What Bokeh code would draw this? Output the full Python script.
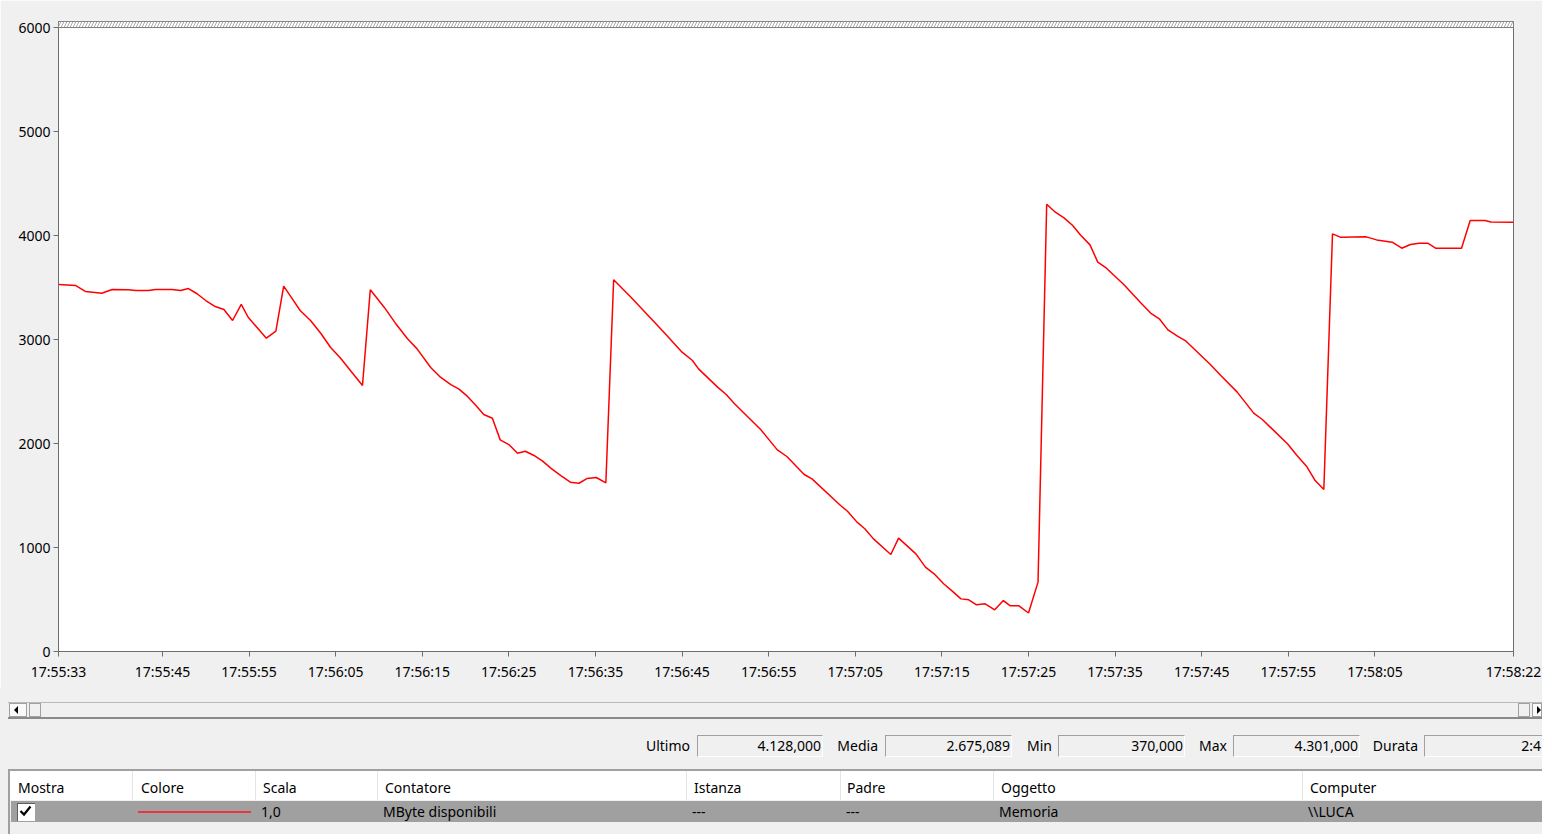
from bokeh.plotting import figure
from bokeh.models import Range1d, FixedTicker, BoxAnnotation, Div
from bokeh.layouts import column
from bokeh.embed import file_html
from bokeh.resources import INLINE

FONT = "Noto Sans"

# ---- data (seconds after 17:55:33, MByte disponibili) ----
seconds = [0, 2.0, 3.1, 5.0, 6.2, 8.1, 8.9, 10.4, 11.2, 13.1,
           14.1, 15.0, 16.0, 17.0, 18.1, 19.1, 20.1, 21.1, 21.9, 22.9,
           24.0, 25.1, 26.0, 27.0, 27.9, 29.1, 30.3, 31.4, 32.6, 33.7,
           35.1, 36.0, 37.6, 38.9, 40.3, 41.4, 43.0, 44.1, 45.3, 46.2,
           47.2, 48.2, 49.1, 50.1, 51.0, 52.0, 53.0, 53.9, 54.9, 55.9,
           56.8, 58.0, 59.1, 60.1, 61.0, 62.1, 63.2, 64.1, 66.1, 69.9,
           72.0, 73.2, 73.9, 76.1, 77.1, 78.0, 81.1, 83.0, 84.1, 86.1,
           87.0, 90.3, 91.1, 92.2, 93.1, 94.1, 96.1, 97.0, 99.0, 100.1,
           101.1, 102.2, 103.2, 104.2, 105.1, 106.0, 107.0, 108.1, 109.1, 109.9,
           110.9, 112.0, 113.1, 114.1, 115.1, 116.1, 117.1, 118.0, 119.1, 120.0,
           121.0, 123.0, 124.9, 126.1, 127.1, 128.1, 129.2, 130.1, 133.0, 134.2,
           136.1, 138.0, 139.0, 141.9, 143.0, 144.1, 145.1, 146.1, 147.1, 148.0,
           151.0, 152.2, 154.0, 155.1, 156.1, 157.1, 158.1, 159.0, 162.0, 163.0,
           164.7, 165.4, 168.0]
mbytes = [3529, 3519, 3462, 3445, 3481, 3478, 3471, 3471, 3481, 3481,
          3471, 3490, 3440, 3375, 3317, 3288, 3183, 3337, 3214, 3118,
          3013, 3080, 3513, 3391, 3279, 3183, 3058, 2926, 2817, 2702,
          2558, 3478, 3311, 3157, 3007, 2910, 2728, 2638, 2567, 2526,
          2455, 2365, 2279, 2243, 2035, 1990, 1907, 1926, 1885, 1830,
          1766, 1692, 1628, 1618, 1663, 1673, 1622, 3574, 3407, 3070,
          2878, 2798, 2718, 2542, 2471, 2388, 2132, 1939, 1875, 1702,
          1660, 1404, 1349, 1244, 1180, 1083, 933, 1090, 939, 811,
          747, 651, 580, 506, 497, 449, 458, 401, 490, 439,
          439, 370, 667, 4301, 4224, 4170, 4096, 4006, 3910, 3744,
          3686, 3529, 3359, 3254, 3199, 3093, 3032, 2990, 2760, 2654,
          2494, 2292, 2231, 1997, 1885, 1782, 1644, 1558, 4016, 3984,
          3987, 3958, 3936, 3878, 3914, 3926, 3926, 3878, 3878, 4144,
          4144, 4131, 4128]

tick_secs = [0, 12, 22, 32, 42, 52, 62, 72, 82, 92, 102, 112, 122, 132, 142, 152, 168]
tick_labels = ["17:55:33", "17:55:45", "17:55:55", "17:56:05", "17:56:15", "17:56:25",
               "17:56:35", "17:56:45", "17:56:55", "17:57:05", "17:57:15", "17:57:25",
               "17:57:35", "17:57:45", "17:57:55", "17:58:05", "17:58:22"]
y_ticks = [0, 1000, 2000, 3000, 4000, 5000, 6000]

stat_names = ["Ultimo", "Media", "Min", "Max", "Durata"]
stat_values = ["4.128,000", "2.675,089", "370,000", "4.301,000", "2:4"]
col_headers = ["Mostra", "Colore", "Scala", "Contatore", "Istanza", "Padre", "Oggetto", "Computer"]
row_values = ["1,0", "MByte disponibili", "---", "---", "Memoria", "\\\\LUCA"]

BG = "#f0f0f0"
FRAME = "#6d6d6d"

# ---- main chart ----
p = figure(width=1542, height=688, x_range=Range1d(0, 168), y_range=Range1d(0, 6058),
           output_backend="svg", toolbar_location=None,
           min_border_left=58, min_border_right=29, min_border_top=21, min_border_bottom=37)
p.background_fill_color = "white"
p.border_fill_color = BG
p.outline_line_color = FRAME
p.grid.visible = False

p.add_layout(BoxAnnotation(bottom=6000, fill_color="white", fill_alpha=1.0,
                           hatch_pattern="/", hatch_color="#a8a8a8", hatch_scale=6,
                           hatch_weight=1, line_color="#7a7a7a", line_alpha=1.0, line_width=1))

p.line(seconds, mbytes, line_color="#ff0000", line_width=1.5)

for ax in (p.xaxis[0], p.yaxis[0]):
    ax.axis_line_color = FRAME
    ax.major_tick_line_color = FRAME
    ax.major_tick_out = 5
    ax.major_tick_in = 0
    ax.minor_tick_line_color = None
    ax.major_label_text_font = FONT
    ax.major_label_text_font_size = "14px"
    ax.major_label_text_color = "#000000"

p.yaxis.ticker = FixedTicker(ticks=y_ticks)
p.yaxis.major_label_standoff = 3
p.xaxis.ticker = FixedTicker(ticks=tick_secs)
p.xaxis.major_label_overrides = {t: lab for t, lab in zip(tick_secs, tick_labels)}
p.xaxis.major_label_standoff = 5

# ---- window chrome below the chart (scrollbar, statistics, counter list) ----
TOP = 688  # page y where the panel starts


def box(l, t, w, h, css=""):
    return (f'<div style="position:absolute;left:{l}px;top:{t - TOP}px;width:{w}px;'
            f'height:{h}px;box-sizing:border-box;{css}"></div>')


def txt(x, yc, s, align="left"):
    if align == "right":
        pos = f"left:{x - 200}px;width:200px;text-align:right;"
    else:
        pos = f"left:{x}px;"
    return (f'<div style="position:absolute;{pos}top:{yc - TOP - 10}px;height:20px;'
            f'line-height:20px;white-space:nowrap;">{s}</div>')


parts = []
# scrollbar
parts.append(box(8, 702, 1534, 17, "border-top:1px solid #b9b9b9;border-bottom:2px solid #8a8a8a;"))
parts.append(box(9, 703, 18, 14, "background:#f9f9f9;border:1px solid #a0a0a0;"))
parts.append(box(29, 703, 12, 14, f"background:{BG};border:1px solid #a0a0a0;"))
parts.append(box(1518, 703, 12, 14, f"background:{BG};border:1px solid #a0a0a0;"))
parts.append(box(1532, 703, 10, 14, "background:#f9f9f9;border:1px solid #a0a0a0;"))
parts.append(box(14, 706, 0, 0, "border-top:4px solid transparent;border-bottom:4px solid transparent;"
                                 "border-right:4px solid #000;"))
parts.append(box(1537, 706, 0, 0, "border-top:4px solid transparent;border-bottom:4px solid transparent;"
                                   "border-left:4px solid #000;"))

# statistics fields
lab_right = [690, 878, 1052, 1227, 1418]
box_left = [697, 885, 1058, 1233, 1424]
box_right = [823, 1012, 1185, 1360, 1560]
val_right = [821, 1010, 1183, 1358, 1541]
for name, val, lr, bl, br, vr in zip(stat_names, stat_values, lab_right, box_left, box_right, val_right):
    parts.append(box(bl, 735, br - bl, 22, f"background:{BG};border-top:1px solid #a0a0a0;"
                                           "border-left:1px solid #a0a0a0;border-bottom:1px solid #fff;"
                                           "border-right:1px solid #fff;"))
    parts.append(txt(lr, 746, name, "right"))
    parts.append(txt(vr, 746, val, "right"))

# counter list
parts.append(box(8, 769, 1534, 2, "background:#a0a0a0;"))
parts.append(box(8, 769, 2, 65, "background:#a0a0a0;"))
parts.append(box(10, 771, 1532, 29, "background:#ffffff;"))
for sx in [132, 255, 377, 686, 840, 993, 1302]:
    parts.append(box(sx, 771, 1, 29, "background:#e5e5e5;"))
for hx, h in zip([18, 141, 263, 385, 694, 847, 1001, 1310], col_headers):
    parts.append(txt(hx, 788, h))
parts.append(box(11, 801, 1531, 21, "background:#a0a0a0;"))
parts.append(box(17, 803, 18, 18, "background:#ffffff;border-left:1px solid #606060;"
                                  "border-top:1px solid #606060;"))
parts.append(f'<svg style="position:absolute;left:17px;top:{803 - TOP}px" width="18" height="18">'
             '<polyline points="3.5,8 7,11.5 13.5,3.5" fill="none" stroke="#000" stroke-width="2.2"/>'
             '</svg>')
parts.append(box(138, 811, 113, 2, "background:#e8383d;"))
for rx, rv in zip([261, 383, 692, 846, 999, 1308], row_values):
    parts.append(txt(rx, 812, rv))

html = (f'<div style="position:relative;width:1542px;height:146px;overflow:hidden;'
        f'background:{BG};font-family:\'{FONT}\';font-size:14px;color:#000;">'
        + "".join(parts) + "</div>")

panel = Div(text=html, width=1542, height=146, margin=0,
            styles={"background-color": BG, "overflow": "hidden"})

layout = column(p, panel, spacing=0)
open("out.html", "w").write(file_html(layout, INLINE))
